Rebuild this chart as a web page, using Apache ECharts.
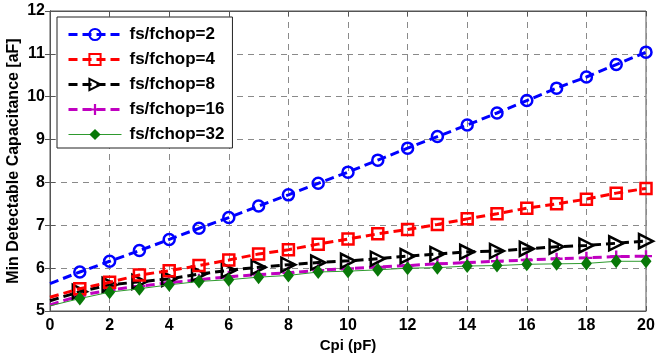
<!DOCTYPE html>
<html><head><meta charset="utf-8">
<script src="https://cdn.jsdelivr.net/npm/echarts@6/dist/echarts.min.js"></script>
<style>html,body{margin:0;padding:0;background:#fff}#c{width:657px;height:358px}</style>
</head><body><div id="c"></div>
<script>
const xValues = [0,1,2,3,4,5,6,7,8,9,10,11,12,13,14,15,16,17,18,19,20];
const seriesNames = ['fs/fchop=2','fs/fchop=4','fs/fchop=8','fs/fchop=16','fs/fchop=32'];
const ratio2  = [5.64,5.91,6.16,6.41,6.67,6.93,7.18,7.45,7.71,7.98,8.24,8.52,8.80,9.07,9.34,9.62,9.91,10.20,10.46,10.75,11.04];
const ratio4  = [5.32,5.52,5.67,5.84,5.94,6.06,6.19,6.33,6.43,6.56,6.68,6.80,6.90,7.02,7.15,7.27,7.40,7.50,7.61,7.75,7.86];
const ratio8  = [5.24,5.45,5.61,5.68,5.75,5.86,5.95,6.02,6.08,6.13,6.17,6.22,6.28,6.33,6.38,6.40,6.45,6.50,6.53,6.58,6.63];
const ratio16 = [5.14,5.36,5.49,5.58,5.66,5.73,5.80,5.85,5.89,5.95,5.99,6.03,6.06,6.10,6.13,6.16,6.19,6.22,6.24,6.27,6.28];
const ratio32 = [5.12,5.29,5.44,5.52,5.61,5.69,5.73,5.79,5.83,5.91,5.93,5.96,6.00,6.01,6.05,6.06,6.09,6.10,6.11,6.16,6.16];
const xTicks = {min:0, max:20, interval:2};
const yTicks = {min:5, max:12, interval:1};
const legendLineWidths = [3,3,3,3,1];

function pts(arr){
  return xValues.map((x,i)=> i===0 ? {value:[x,arr[i]], symbol:'none'} : [x,arr[i]]);
}
const plusPath = 'path://M4,0h2v4h4v2h-4v4h-2v-4h-4v-2h4z';
const font = 'Liberation Sans, Arial, sans-serif';
const chart = echarts.init(document.getElementById('c'), null, {renderer:'canvas'});
const gridLine = {show:true, lineStyle:{color:'#8a8a8a', type:[6,5], width:1}};
const option = {
  animation:false,
  backgroundColor:'#fff',
  grid:{left:50, right:11, top:11, bottom:47, show:true, borderColor:'#555', borderWidth:1,
        backgroundColor:'transparent', containLabel:false, outerBoundsMode:'none'},
  legend:{
    orient:'vertical', left:57, top:17, padding:[9,8,5,10],
    backgroundColor:'#fff', borderColor:'#222', borderWidth:1,
    itemWidth:53, itemHeight:14, itemGap:8,
    textStyle:{fontFamily:font, fontWeight:'bold', fontSize:17, color:'#000', padding:[0,0,0,3]},
    data:seriesNames.map((n,i)=>({name:n, lineStyle:{width:legendLineWidths[i]}}))
  },
  xAxis:[{
    type:'value', min:xTicks.min, max:xTicks.max, interval:xTicks.interval,
    name:'Cpi (pF)', nameLocation:'middle', nameGap:27, nameMoveOverlap:false,
    nameTextStyle:{fontFamily:font, fontWeight:'bold', fontSize:15, color:'#000'},
    axisLine:{show:true, lineStyle:{color:'#555'}},
    axisTick:{show:true, inside:true, length:5, lineStyle:{color:'#555'}},
    axisLabel:{fontFamily:font, fontWeight:'bold', fontSize:16, color:'#000', margin:7},
    splitLine:gridLine
  },{
    type:'value', position:'top', min:xTicks.min, max:xTicks.max, interval:xTicks.interval,
    axisLine:{show:true, lineStyle:{color:'#555'}},
    axisTick:{show:true, inside:true, length:5, lineStyle:{color:'#555'}},
    axisLabel:{show:false}, splitLine:{show:false}
  }],
  yAxis:[{
    type:'value', min:yTicks.min, max:yTicks.max, interval:yTicks.interval,
    name:'Min Detectable Capacitance [aF]', nameLocation:'middle', nameGap:28, nameMoveOverlap:false,
    nameTextStyle:{fontFamily:font, fontWeight:'bold', fontSize:16, color:'#000'},
    axisLine:{show:true, lineStyle:{color:'#555'}},
    axisTick:{show:true, inside:true, length:5, lineStyle:{color:'#555'}},
    axisLabel:{fontFamily:font, fontWeight:'bold', fontSize:16, color:'#000', margin:5},
    splitLine:gridLine
  },{
    type:'value', position:'right', min:yTicks.min, max:yTicks.max, interval:yTicks.interval,
    axisLine:{show:true, lineStyle:{color:'#555'}},
    axisTick:{show:true, inside:true, length:5, lineStyle:{color:'#555'}},
    axisLabel:{show:false}, splitLine:{show:false}
  }],
  series:[
    {name:seriesNames[0], type:'line', data:pts(ratio2), symbol:'circle', symbolSize:11,
     lineStyle:{color:'#0000ff', width:3, type:[9,5]},
     itemStyle:{color:'rgba(255,255,255,0)', borderColor:'#0000ff', borderWidth:2.5}, z:5},
    {name:seriesNames[1], type:'line', data:pts(ratio4), symbol:'rect', symbolSize:11,
     lineStyle:{color:'#ff0000', width:3, type:[9,5]},
     itemStyle:{color:'rgba(255,255,255,0)', borderColor:'#ff0000', borderWidth:2.5}, z:4},
    {name:seriesNames[2], type:'line', data:pts(ratio8), symbol:'triangle', symbolRotate:-90, symbolSize:14,
     lineStyle:{color:'#000000', width:3, type:[9,5]},
     itemStyle:{color:'rgba(255,255,255,0)', borderColor:'#000000', borderWidth:2.5}, z:3},
    {name:seriesNames[3], type:'line', data:pts(ratio16), symbol:plusPath, symbolSize:12,
     lineStyle:{color:'#c000c0', width:3, type:[9,5]},
     itemStyle:{color:'#c000c0'}, z:2},
    {name:seriesNames[4], type:'line', data:pts(ratio32), symbol:'diamond', symbolSize:[11,14],
     lineStyle:{color:'#2e9a2e', width:1, type:'solid'},
     itemStyle:{color:'#087808'}, z:6}
  ]
};
chart.setOption(option);
</script></body></html>
